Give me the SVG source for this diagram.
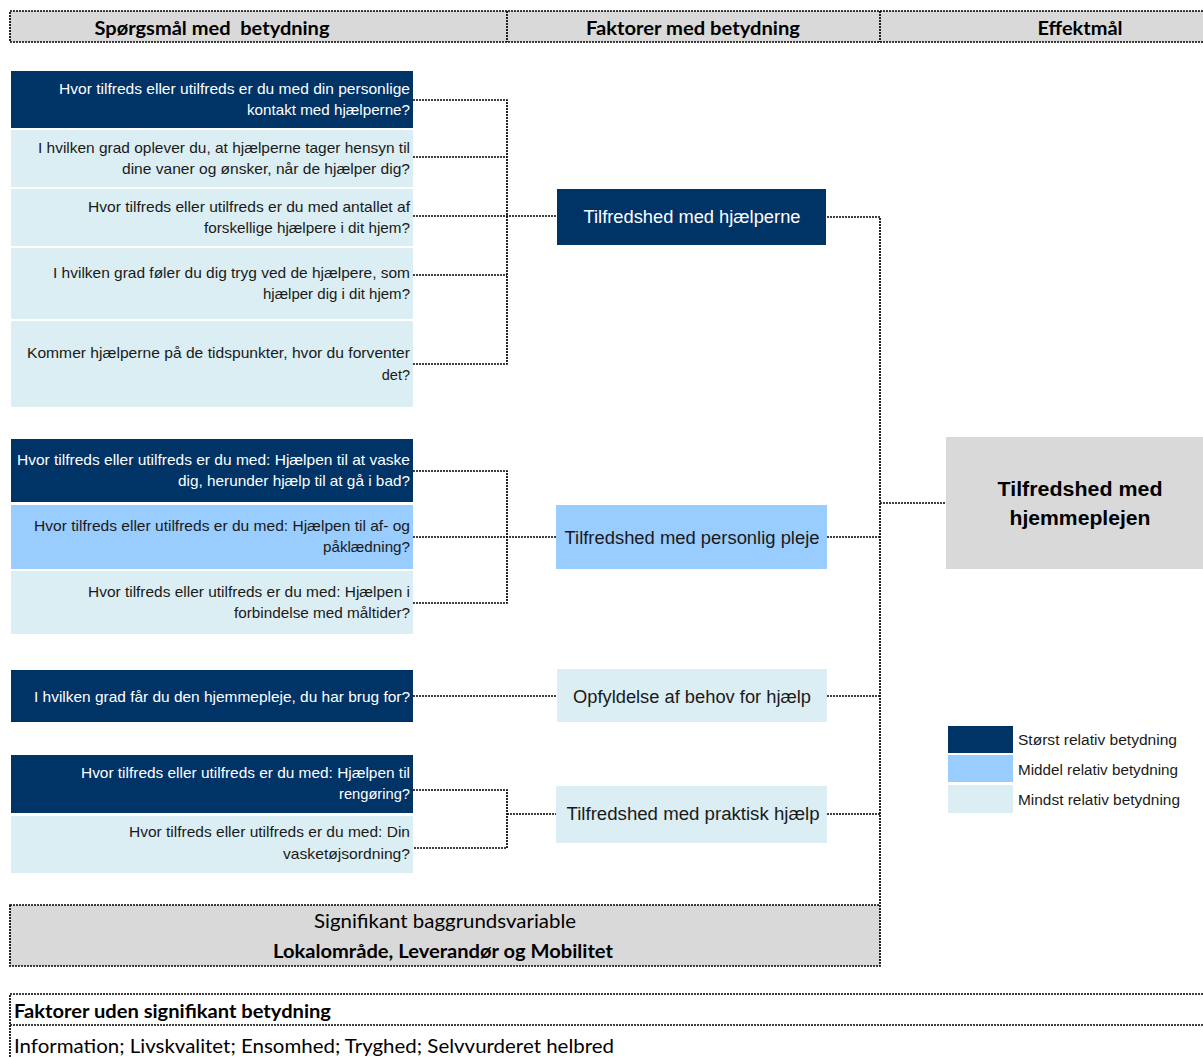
<svg xmlns="http://www.w3.org/2000/svg" width="1203" height="1057" viewBox="0 0 1203 1057">
<style>
.dk{fill:#003366}
.md{fill:#99ccff}
.lt{fill:#daeef3}
.gr{fill:#d9d9d9}
.q{font-family:"Liberation Sans",Arial,sans-serif;font-size:14.5px;text-anchor:end}
.w{fill:#ffffff}
.b{fill:#1a1a1a}
.f{font-family:"Liberation Sans",Arial,sans-serif;font-size:18px;text-anchor:middle}
.h{font-family:Lato,"Open Sans",sans-serif;font-size:19px;font-weight:bold;fill:#000}
.c{font-family:Lato,"Open Sans",sans-serif;font-size:19px;fill:#000}
.dot{fill:none;stroke:#000;stroke-width:1.7;stroke-dasharray:2 1}
.lg{font-family:"Liberation Sans",Arial,sans-serif;font-size:14px;fill:#1a1a1a}
</style>

<g id="header">
<rect x="10" y="11" width="1193" height="31" class="gr"/>
<path class="dot" d="M1203 11H10V42H1203M507 11V42M880 11V42"/>
<text class="h" x="212" y="35" text-anchor="middle" textLength="235" lengthAdjust="spacingAndGlyphs" xml:space="preserve">Spørgsmål med  betydning</text>
<text class="h" x="693" y="35" text-anchor="middle" textLength="214" lengthAdjust="spacingAndGlyphs">Faktorer med betydning</text>
<text class="h" x="1080" y="35" text-anchor="middle" textLength="85" lengthAdjust="spacingAndGlyphs">Effektmål</text>
</g>

<g id="connectors">
<path class="dot" d="M413 100H507V364H413M413 157H507M413 216H557M413 275H507"/>
<path class="dot" d="M413 471H507V603H413M413 537H556"/>
<path class="dot" d="M413 696H557"/>
<path class="dot" d="M413 790H507V848H413M507 814H556"/>
<path class="dot" d="M827 217H880V905M827 537H880M827 696H880M827 814H880M880 503H946"/>
</g>

<g id="q1"><rect x="11" y="71" width="402" height="57" class="dk"/>
<text class="q w" x="410" y="94" textLength="351" lengthAdjust="spacingAndGlyphs">Hvor tilfreds eller utilfreds er du med din personlige</text>
<text class="q w" x="410" y="115" textLength="163" lengthAdjust="spacingAndGlyphs">kontakt med hjælperne?</text></g>
<g id="q2"><rect x="11" y="130" width="402" height="57" class="lt"/>
<text class="q b" x="410" y="153" textLength="372" lengthAdjust="spacingAndGlyphs">I hvilken grad oplever du, at hjælperne tager hensyn til</text>
<text class="q b" x="410" y="174" textLength="288" lengthAdjust="spacingAndGlyphs">dine vaner og ønsker, når de hjælper dig?</text></g>
<g id="q3"><rect x="11" y="189" width="402" height="57" class="lt"/>
<text class="q b" x="410" y="212" textLength="322" lengthAdjust="spacingAndGlyphs">Hvor tilfreds eller utilfreds er du med antallet af</text>
<text class="q b" x="410" y="233" textLength="206" lengthAdjust="spacingAndGlyphs">forskellige hjælpere i dit hjem?</text></g>
<g id="q4"><rect x="11" y="248" width="402" height="71" class="lt"/>
<text class="q b" x="410" y="278" textLength="357" lengthAdjust="spacingAndGlyphs">I hvilken grad føler du dig tryg ved de hjælpere, som</text>
<text class="q b" x="410" y="299" textLength="147" lengthAdjust="spacingAndGlyphs">hjælper dig i dit hjem?</text></g>
<g id="q5"><rect x="11" y="321" width="402" height="86" class="lt"/>
<text class="q b" x="410" y="358" textLength="383" lengthAdjust="spacingAndGlyphs">Kommer hjælperne på de tidspunkter, hvor du forventer</text>
<text class="q b" x="410" y="380">det?</text></g>

<g id="q6"><rect x="11" y="439" width="402" height="63" class="dk"/>
<text class="q w" x="410" y="465" textLength="393" lengthAdjust="spacingAndGlyphs">Hvor tilfreds eller utilfreds er du med: Hjælpen til at vaske</text>
<text class="q w" x="410" y="486" textLength="232" lengthAdjust="spacingAndGlyphs">dig, herunder hjælp til at gå i bad?</text></g>
<g id="q7"><rect x="11" y="505" width="402" height="64" class="md"/>
<text class="q b" x="410" y="531" textLength="376" lengthAdjust="spacingAndGlyphs">Hvor tilfreds eller utilfreds er du med: Hjælpen til af- og</text>
<text class="q b" x="410" y="552" textLength="87" lengthAdjust="spacingAndGlyphs">påklædning?</text></g>
<g id="q8"><rect x="11" y="571" width="402" height="63" class="lt"/>
<text class="q b" x="410" y="597" textLength="322" lengthAdjust="spacingAndGlyphs">Hvor tilfreds eller utilfreds er du med: Hjælpen i</text>
<text class="q b" x="410" y="618" textLength="176" lengthAdjust="spacingAndGlyphs">forbindelse med måltider?</text></g>

<g id="q9"><rect x="11" y="670" width="402" height="52" class="dk"/>
<text class="q w" x="410" y="702" textLength="376" lengthAdjust="spacingAndGlyphs">I hvilken grad får du den hjemmepleje, du har brug for?</text></g>

<g id="q10"><rect x="11" y="755" width="402" height="58" class="dk"/>
<text class="q w" x="410" y="778" textLength="329" lengthAdjust="spacingAndGlyphs">Hvor tilfreds eller utilfreds er du med: Hjælpen til</text>
<text class="q w" x="410" y="799" textLength="71" lengthAdjust="spacingAndGlyphs">rengøring?</text></g>
<g id="q11"><rect x="11" y="816" width="402" height="57" class="lt"/>
<text class="q b" x="410" y="837" textLength="281" lengthAdjust="spacingAndGlyphs">Hvor tilfreds eller utilfreds er du med: Din</text>
<text class="q b" x="410" y="859" textLength="127" lengthAdjust="spacingAndGlyphs">vasketøjsordning?</text></g>

<g id="f1"><rect x="557" y="189" width="269" height="56" class="dk"/>
<text class="f w" x="692" y="223" textLength="217" lengthAdjust="spacingAndGlyphs">Tilfredshed med hjælperne</text></g>
<g id="f2"><rect x="556" y="505" width="271" height="64" class="md"/>
<text class="f b" x="692" y="544" textLength="255" lengthAdjust="spacingAndGlyphs">Tilfredshed med personlig pleje</text></g>
<g id="f3"><rect x="557" y="669" width="270" height="53" class="lt"/>
<text class="f b" x="692" y="703" textLength="238" lengthAdjust="spacingAndGlyphs">Opfyldelse af behov for hjælp</text></g>
<g id="f4"><rect x="556" y="786" width="271" height="57" class="lt"/>
<text class="f b" x="693" y="820" textLength="253" lengthAdjust="spacingAndGlyphs">Tilfredshed med praktisk hjælp</text></g>

<g id="outcome"><rect x="946" y="437" width="257" height="132" class="gr"/>
<text x="1080" y="496" font-family="Liberation Sans,Arial,sans-serif" font-size="20" font-weight="bold" text-anchor="middle" fill="#000" textLength="165" lengthAdjust="spacingAndGlyphs">Tilfredshed med</text>
<text x="1080" y="525" font-family="Liberation Sans,Arial,sans-serif" font-size="20" font-weight="bold" text-anchor="middle" fill="#000" textLength="141" lengthAdjust="spacingAndGlyphs">hjemmeplejen</text></g>

<g id="legend">
<rect x="948" y="726" width="65" height="27" class="dk"/>
<rect x="948" y="755" width="65" height="27" class="md"/>
<rect x="948" y="785" width="65" height="28" class="lt"/>
<text class="lg" x="1018" y="745" textLength="159" lengthAdjust="spacingAndGlyphs">Størst relativ betydning</text>
<text class="lg" x="1018" y="775" textLength="160" lengthAdjust="spacingAndGlyphs">Middel relativ betydning</text>
<text class="lg" x="1018" y="805" textLength="162" lengthAdjust="spacingAndGlyphs">Mindst relativ betydning</text>
</g>

<g id="background">
<rect x="10" y="905" width="870" height="61" class="gr"/>
<path class="dot" d="M10 905H880V966H10Z"/>
<text class="c" x="445" y="928" text-anchor="middle" textLength="262" lengthAdjust="spacingAndGlyphs">Signifikant baggrundsvariable</text>
<text class="h" x="443" y="958" text-anchor="middle" textLength="340" lengthAdjust="spacingAndGlyphs">Lokalområde, Leverandør og Mobilitet</text>
</g>

<g id="nonsig">
<path class="dot" d="M1203 994H10V1057M10 1025H1203"/>
<text class="h" x="14" y="1018" textLength="317" lengthAdjust="spacingAndGlyphs">Faktorer uden signifikant betydning</text>
<text class="c" x="14" y="1053" textLength="600" lengthAdjust="spacingAndGlyphs">Information; Livskvalitet; Ensomhed; Tryghed; Selvvurderet helbred</text>
</g>
</svg>
